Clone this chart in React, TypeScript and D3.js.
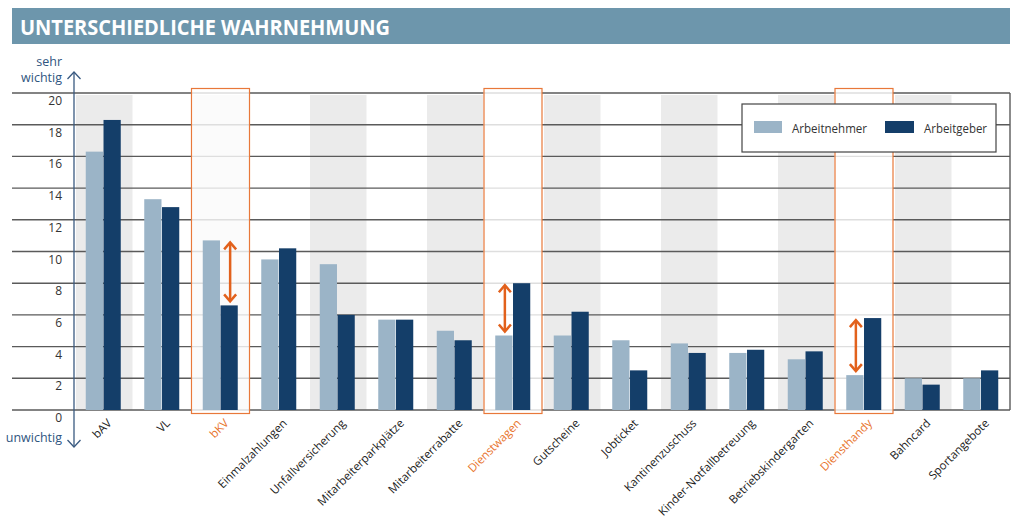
import React from "react";
import * as d3 from "d3";

const categories = [
  "bAV", "VL", "bKV", "Einmalzahlungen", "Unfallversicherung", "Mitarbeiterparkplätze",
  "Mitarbeiterrabatte", "Dienstwagen", "Gutscheine", "Jobticket", "Kantinenzuschuss",
  "Kinder-Notfallbetreuung", "Betriebskindergarten", "Diensthandy", "Bahncard", "Sportangebote",
];
const arbeitnehmer = [16.3, 13.3, 10.7, 9.5, 9.2, 5.7, 5.0, 4.7, 4.7, 4.4, 4.2, 3.6, 3.2, 2.2, 2.0, 2.0];
const arbeitgeber = [18.3, 12.8, 6.6, 10.2, 6.0, 5.7, 4.4, 8.0, 6.2, 2.5, 3.6, 3.8, 3.7, 5.8, 1.6, 2.5];
const highlighted = ["bKV", "Dienstwagen", "Diensthandy"];
const series = ["Arbeitnehmer", "Arbeitgeber"];
const yTicks = [0, 2, 4, 6, 8, 10, 12, 14, 16, 18, 20];
const title = "UNTERSCHIEDLICHE WAHRNEHMUNG";

const LIGHT = "#9bb4c7";
const DARK = "#143e69";
const ORANGE = "#e8783a";
const ARROW = "#e2611c";
const AXIS = "#3a5a80";
const FONT = "'Open Sans', 'Noto Sans', sans-serif";

export default function App() {
  const W = 1024, H = 526;
  const x = d3.scaleBand<string>().domain(categories).range([74, 1010]).padding(0);
  const y = d3.scaleLinear().domain([0, 20]).range([410, 93]);
  const xs = d3.scaleBand<string>().domain(series).range([-17.5, 17.5]).paddingInner(0.03);
  const bw = xs.bandwidth();
  const values = [arbeitnehmer, arbeitgeber];
  const colors = [LIGHT, DARK];

  const chevron = (cx: number, cy: number, dir: number, hw: number, hh: number) =>
    `M${cx - hw},${cy + dir * hh}L${cx},${cy}L${cx + hw},${cy + dir * hh}`;

  return (
    <svg width={W} height={H} style={{ display: "block", position: "absolute", left: 0, top: 0 }} fontFamily={FONT}>
      <rect x={0} y={0} width={W} height={H} fill="#fff" />
      {/* title bar */}
      <rect x={12} y={8} width={998} height={36} fill="#6d96ac" />
      <text x={20} y={35} fill="#fff" fontWeight={700} fontSize={22} textLength={370} lengthAdjust="spacingAndGlyphs">
        {title}
      </text>

      {/* shaded bands */}
      {categories.map((c, i) =>
        i % 2 === 0 ? (
          <rect key={"b" + c} x={x(c)! + 2} y={95} width={x.bandwidth() - 2} height={y(0) - 95} fill="#ebebeb" />
        ) : null
      )}

      {/* gridlines */}
      {yTicks.map((t) => (
        <line key={"g" + t} x1={12} x2={1010} y1={y(t)} y2={y(t)} stroke="#5a5a5a" strokeWidth={1.4} />
      ))}
      <line x1={1010} x2={1010} y1={y(20)} y2={y(0)} stroke="#5a5a5a" strokeWidth={1.4} />

      {/* highlight box fills */}
      {highlighted.map((c) => (
        <rect key={"hf" + c} x={x(c)!} y={88} width={x.bandwidth()} height={326} fill="#fff" fillOpacity={0.8} />
      ))}

      {/* bars */}
      {categories.map((c, i) =>
        series.map((s, k) => (
          <rect
            key={c + s}
            x={x(c)! + x.bandwidth() / 2 + xs(s)!}
            y={y(values[k][i])}
            width={bw}
            height={y(0) - y(values[k][i])}
            fill={colors[k]}
          />
        ))
      )}

      {/* highlight box strokes */}
      {highlighted.map((c) => (
        <rect key={"hs" + c} x={x(c)! + 0.5} y={88.5} width={x.bandwidth() - 0.5} height={325} fill="none" stroke={ORANGE} strokeWidth={1.2} />
      ))}

      {/* difference arrows */}
      {highlighted.map((c) => {
        const i = categories.indexOf(c);
        const a = arbeitnehmer[i], b = arbeitgeber[i];
        const lowIdx = a < b ? 0 : 1;
        const cx = x(c)! + x.bandwidth() / 2 + xs(series[lowIdx])! + bw / 2 + 1;
        const yTop = y(Math.max(a, b)) + 2;
        const yBot = y(Math.min(a, b)) - 4;
        return (
          <g key={"ar" + c} stroke={ARROW} strokeWidth={2.5} fill="none">
            <line x1={cx} x2={cx} y1={yTop + 1} y2={yBot - 1} />
            <path d={chevron(cx, yTop, 1, 6, 7)} />
            <path d={chevron(cx, yBot, -1, 6, 7)} />
          </g>
        );
      })}

      {/* y axis */}
      <g stroke={AXIS} strokeWidth={1.3} fill="none">
        <line x1={74} x2={74} y1={72} y2={447} />
        <path d={chevron(74, 72, 1, 6.5, 7)} />
        <path d={chevron(74, 447, -1, 6.5, 7)} />
      </g>
      {yTicks.map((t) => (
        <text key={"t" + t} x={62} y={y(t) + 12} textAnchor="end" fontSize={12} fill="#333">
          {t}
        </text>
      ))}
      <text x={62} y={66} textAnchor="end" fontSize={12.5} fill="#2f5580">sehr</text>
      <text x={62} y={82} textAnchor="end" fontSize={12.5} fill="#2f5580">wichtig</text>
      <text x={62} y={442} textAnchor="end" fontSize={12.5} fill="#2f5580">unwichtig</text>

      {/* x labels */}
      {categories.map((c) => (
        <text
          key={"l" + c}
          transform={`translate(${x(c)! + x.bandwidth() / 2 + 9},${424}) rotate(-45)`}
          textAnchor="end"
          fontSize={11.5}
          fill={highlighted.includes(c) ? "#e8742c" : "#222"}
        >
          {c}
        </text>
      ))}

      {/* legend */}
      <rect x={742} y={104} width={254} height={48} fill="#fff" stroke="#444" strokeWidth={1.2} />
      <rect x={754} y={121} width={28} height={12} fill={LIGHT} />
      <text x={792} y={133} fontSize={13} fill="#333" textLength={75} lengthAdjust="spacingAndGlyphs">Arbeitnehmer</text>
      <rect x={885} y={121} width={29} height={12} fill={DARK} />
      <text x={924} y={133} fontSize={13} fill="#333" textLength={63} lengthAdjust="spacingAndGlyphs">Arbeitgeber</text>
    </svg>
  );
}
